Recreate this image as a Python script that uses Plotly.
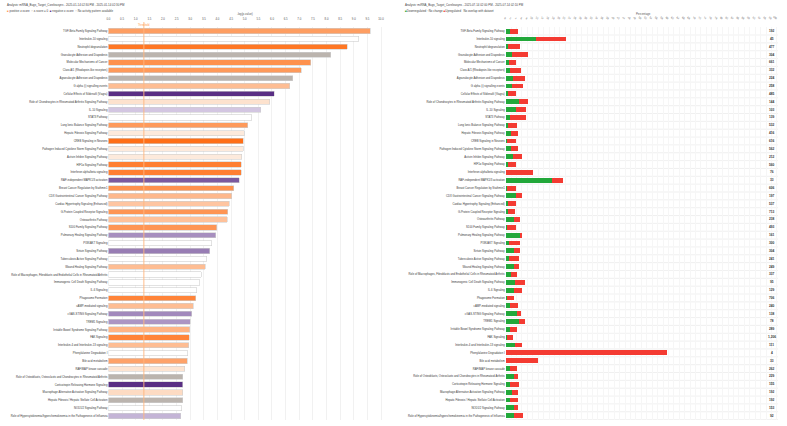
import plotly.graph_objects as go

W, H = 787, 426

categories = [
    "TGF-Beta Family Signaling Pathway",
    "Interleukin-10 signaling",
    "Neutrophil degranulation",
    "Granulocyte Adhesion and Diapedesis",
    "Molecular Mechanisms of Cancer",
    "Class A/1 (Rhodopsin-like receptors)",
    "Agranulocyte Adhesion and Diapedesis",
    "G alpha (i) signalling events",
    "Cellular Effects of Sildenafil (Viagra)",
    "Role of Chondrocytes in Rheumatoid Arthritis Signaling Pathway",
    "IL-10 Signaling",
    "STAT3 Pathway",
    "Lung Ionic Balance Signaling Pathway",
    "Hepatic Fibrosis Signaling Pathway",
    "CREB Signaling in Neurons",
    "Pathogen Induced Cytokine Storm Signaling Pathway",
    "Activin Inhibin Signaling Pathway",
    "HIF1α Signaling Pathway",
    "Interferon alpha/beta signaling",
    "RAF-independent MAPK1/3 activation",
    "Breast Cancer Regulation by Stathmin1",
    "CDX Gastrointestinal Cancer Signaling Pathway",
    "Cardiac Hypertrophy Signaling (Enhanced)",
    "G-Protein Coupled Receptor Signaling",
    "Osteoarthritis Pathway",
    "S100 Family Signaling Pathway",
    "Pulmonary Healing Signaling Pathway",
    "PI3K/AKT Signaling",
    "Sirtuin Signaling Pathway",
    "Tuberculosis Active Signaling Pathway",
    "Wound Healing Signaling Pathway",
    "Role of Macrophages, Fibroblasts and Endothelial Cells in Rheumatoid Arthritis",
    "Immunogenic Cell Death Signaling Pathway",
    "IL-6 Signaling",
    "Phagosome Formation",
    "cAMP-mediated signaling",
    "cGAS-STING Signaling Pathway",
    "TREM1 Signaling",
    "Irritable Bowel Syndrome Signaling Pathway",
    "FAK Signaling",
    "Interleukin-4 and Interleukin-13 signaling",
    "Phenylalanine Degradation I",
    "Bile acid metabolism",
    "RAF/MAP kinase cascade",
    "Role of Osteoblasts, Osteoclasts and Chondrocytes in Rheumatoid Arthritis",
    "Corticotropin Releasing Hormone Signaling",
    "Macrophage Alternative Activation Signaling Pathway",
    "Hepatic Fibrosis / Hepatic Stellate Cell Activation",
    "NOD1/2 Signaling Pathway",
    "Role of Hypercytokinemia/hyperchemokinemia in the Pathogenesis of Influenza",
]

neg_log_p = [
    9.61, 9.19, 8.77, 8.15, 7.43, 7.07, 6.77, 6.66, 6.08, 5.91,
    5.58, 5.26, 5.12, 4.98, 4.95, 4.94, 4.89, 4.88, 4.87, 4.79,
    4.60, 4.52, 4.43, 4.38, 4.35, 3.97, 3.94, 3.79, 3.72, 3.61,
    3.55, 3.40, 3.35, 3.24, 3.21, 3.12, 3.06, 3.01, 2.99, 2.96,
    2.95, 2.91, 2.90, 2.80, 2.73, 2.73, 2.72, 2.72, 2.69, 2.66,
]

# None = no activity pattern available, 0 = z-score 0
z_scores = [
    1.9, None, 2.8, 0, 2.2, 2.0, 0, 1.2, -2.9, 0.35,
    -0.4, None, 2.0, 0.15, 3.0, 0.15, 0.15, 2.6, 2.6, -2.2,
    2.2, 1.3, 1.0, 2.1, 1.1, 2.1, -1.3, None, -1.6, None,
    1.2, None, None, None, 2.5, 1.2, -1.4, -1.2, 1.4, 2.5,
    1.2, None, 1.8, 0.3, 0, -2.9, 0.5, 0, None, -0.7,
]

pct_down = [
    1.5, 11.1, 0.7, 2.3, 1.2, 1.6, 2.6, 2.2, 0.7, 4.8,
    3.8, 1.5, 1.0, 1.9, 0.5, 1.9, 2.8, 0.7, 0.0, 17.0,
    0.6, 3.9, 1.0, 0.9, 3.1, 0.6, 5.5, 1.1, 3.1, 1.2,
    2.9, 2.1, 3.3, 3.2, 0.5, 1.6, 4.3, 4.9, 1.5, 0.5,
    3.6, 0.0, 0.0, 1.6, 2.9, 1.7, 2.5, 1.5, 3.1, 3.2,
]

pct_up = [
    3.2, 11.1, 4.7, 5.8, 2.6, 4.2, 4.4, 4.0, 3.2, 3.3,
    3.7, 6.1, 3.0, 2.5, 3.3, 2.6, 3.2, 3.2, 10.2, 4.2,
    3.1, 2.0, 2.8, 2.5, 2.2, 3.2, 0.6, 4.2, 2.2, 3.6,
    1.9, 1.9, 3.8, 2.9, 2.6, 2.8, 1.3, 2.3, 2.5, 2.1,
    2.5, 59.5, 11.8, 2.4, 1.5, 3.3, 2.0, 3.2, 1.6, 3.3,
]

total_molecules = [
    192, 45, 477, 304, 661, 332, 224, 258, 485, 144,
    103, 139, 532, 416, 616, 562, 212, 560, 76, 33,
    606, 197, 537, 713, 238, 493, 161, 300, 304, 241,
    249, 337, 95, 129, 706, 240, 138, 78, 289, 1206,
    111, 4, 33, 262, 229, 155, 192, 192, 153, 92,
]

left_ticks = [i * 0.5 for i in range(21)]
right_ticks = list(range(0, 101, 2))

THRESHOLD = 1.3


def lerp(c0, c1, t):
    return "rgb(%d,%d,%d)" % tuple(round(a + (b - a) * t) for a, b in zip(c0, c1))


def zcolor(z):
    if z is None:
        return "#FFFFFF"
    if z == 0:
        return "#BBB4AE"
    if z > 0:
        return lerp((253, 241, 230), (255, 110, 22), min(z / 3.0, 1.0))
    return lerp((230, 222, 240), (84, 40, 128), min(-z / 3.0, 1.0))


def px_x(p):
    return p / W


def px_y(p):
    return 1 - p / H


bar_colors = [zcolor(z) for z in z_scores]

FONT = "Liberation Sans, Arial, sans-serif"
LBL = 2.75
TXT = "#3a3a3a"

fig = go.Figure()

fig.add_trace(go.Bar(
    y=categories, x=neg_log_p, orientation="h",
    marker=dict(color=bar_colors, line=dict(color="#cfcfcf", width=0.6)),
    width=0.66, xaxis="x", yaxis="y", showlegend=False,
    hovertemplate="%{y}: %{x}<extra></extra>",
))

fig.add_trace(go.Bar(
    y=categories, x=pct_down, orientation="h",
    marker=dict(color="#22A83A", line=dict(width=0)),
    width=0.62, xaxis="x2", yaxis="y2", showlegend=False, name="Downregulated",
))
fig.add_trace(go.Bar(
    y=categories, x=pct_up, orientation="h",
    marker=dict(color="#F43B32", line=dict(width=0)),
    width=0.62, xaxis="x2", yaxis="y2", showlegend=False, name="Upregulated",
))

row_top, row_bot = 27.1, 419.9
ydom = [px_y(row_bot), px_y(row_top)]

fig.update_layout(
    width=W, height=H, margin=dict(l=0, r=0, t=0, b=0),
    paper_bgcolor="white", plot_bgcolor="white",
    barmode="stack", font=dict(family=FONT, color=TXT, size=LBL),
    xaxis=dict(domain=[px_x(106.7), px_x(383)], range=[0, 10.11], side="top",
               tickvals=left_ticks, ticktext=["%.1f" % t for t in left_ticks],
               tickfont=dict(size=2.8, color="#555"), showgrid=True,
               gridcolor="#f1f1f1", gridwidth=0.6, zeroline=False, showline=False,
               ticks="", ticklabelstandoff=6, anchor="y"),
    yaxis=dict(domain=ydom, type="category", categoryarray=categories,
               autorange="reversed", tickfont=dict(size=LBL, color=TXT),
               showgrid=False, ticks="", anchor="x"),
    xaxis2=dict(domain=[px_x(505), px_x(778)], range=[0, 100.4], side="top",
                tickvals=right_ticks, tickfont=dict(size=2.5, color="#555"),
                showgrid=True, gridcolor="#f6f6f6", gridwidth=0.5,
                zeroline=False, showline=False, ticks="", ticklabelstandoff=6,
                anchor="y2"),
    yaxis2=dict(domain=ydom, type="category", categoryarray=categories,
                autorange="reversed", tickfont=dict(size=LBL, color=TXT),
                showgrid=False, ticks="", anchor="x2"),
)

shapes = []
n = len(categories)
for i in range(n):
    shapes.append(dict(type="line", xref="x2", yref="y2", x0=0, x1=101.5,
                       y0=i + 0.5, y1=i + 0.5,
                       line=dict(color="#e6e6e6", width=0.6), layer="below"))
shapes.append(dict(type="line", xref="x", yref="paper", x0=THRESHOLD, x1=THRESHOLD,
                   y0=ydom[0], y1=px_y(22), line=dict(color="#FFB57E", width=0.9)))
fig.update_layout(shapes=shapes)

ann = []
ann.append(dict(text="Analysis: mRNA_Bugs_Target_Coreleasyns - 2025-01-14 02:30 PM - 2025-01-14 02:30 PM",
                x=px_x(3), y=px_y(5), xref="paper", yref="paper", xanchor="left",
                yanchor="middle", showarrow=False, font=dict(size=2.9, color="#444")))
ann.append(dict(text='<span style="color:#FF9A5A">■</span> positive z-score &nbsp;'
                     '<span style="color:#BBB4AE">□</span> z-score = 0 &nbsp;'
                     '<span style="color:#5B2C83">■</span> negative z-score &nbsp;'
                     '<span style="color:#BBBBBB">□</span> No activity pattern available',
                x=px_x(3), y=px_y(11), xref="paper", yref="paper", xanchor="left",
                yanchor="middle", showarrow=False, font=dict(size=2.9, color="#444")))
ann.append(dict(text="-log(p-value)", x=px_x(244), y=px_y(14), xref="paper", yref="paper",
                xanchor="center", yanchor="middle", showarrow=False,
                font=dict(size=2.8, color="#555")))
ann.append(dict(text="Threshold", x=THRESHOLD, y=px_y(24.5), xref="x", yref="paper",
                xanchor="center", yanchor="middle", showarrow=False,
                font=dict(size=2.6, color="#FF9A4A")))

ann.append(dict(text="Analysis: miRNA_Bugs_Target_Coreleasyns - 2025-07-14 02:00 PM - 2025-07-14 02:10 PM",
                x=px_x(402), y=px_y(5), xref="paper", yref="paper", xanchor="left",
                yanchor="middle", showarrow=False, font=dict(size=2.9, color="#444")))
ann.append(dict(text='<span style="color:#22A83A">■</span>Downregulated '
                     '<span style="color:#BBBBBB">□</span>No change '
                     '<span style="color:#F43B32">■</span>Upregulated &nbsp; No overlap with dataset',
                x=px_x(402), y=px_y(11), xref="paper", yref="paper", xanchor="left",
                yanchor="middle", showarrow=False, font=dict(size=2.9, color="#444")))
ann.append(dict(text="Percentage", x=px_x(643), y=px_y(14), xref="paper", yref="paper",
                xanchor="center", yanchor="middle", showarrow=False,
                font=dict(size=2.8, color="#555")))

for c, m in zip(categories, total_molecules):
    ann.append(dict(text="<b>%s</b>" % format(m, ","), x=px_x(771.5), y=c,
                    xref="paper", yref="y2", xanchor="center", yanchor="middle",
                    showarrow=False, font=dict(size=3.2, color="#333")))

fig.update_layout(annotations=ann)

fig.write_html("out.html")
